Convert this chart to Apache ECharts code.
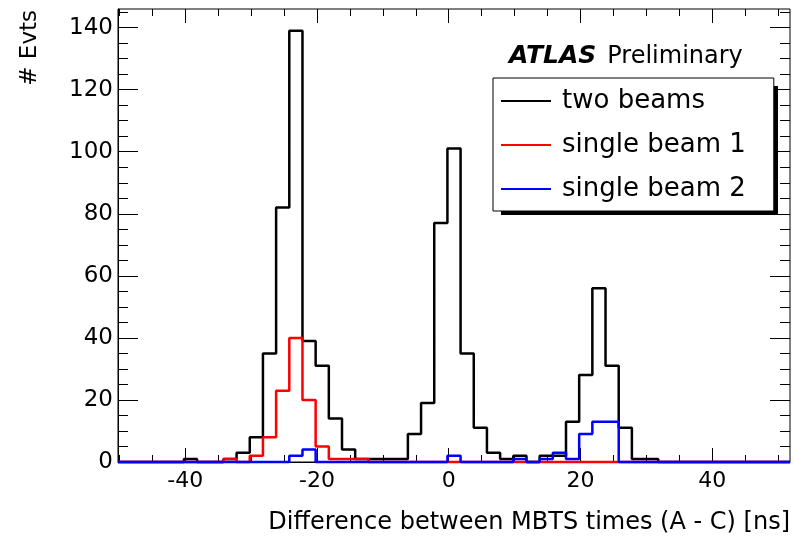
<!DOCTYPE html>
<html>
<head>
<meta charset="utf-8">
<script src="https://cdn.jsdelivr.net/npm/echarts@6/dist/echarts.min.js"></script>
<style>html,body{margin:0;padding:0;background:#fff;}#chart{width:794px;height:540px;}</style>
</head>
<body>
<div id="chart"></div>
<script>
// Histogram binning (ns): 51 bins of width 2 starting at binLow
const binLow = -50.2;
const binWidth = 2;
const xMin = -50.2;
const xMax = 51.8;
const yMin = 0;
const yMax = 146;

const seriesNames = ['two beams', 'single beam 1', 'single beam 2'];
const twoBeams = [0,0,0,0,0,1,0,0,1,3, 8,35,82,139,39,31,14,4,1,1, 1,1,9,19,77,101,35,11,3,1, 2,0,2,2,13,28,56,31,11,1, 1,0,0,0,0,0,0,0,0,0, 0];
const singleBeam1 = [0,0,0,0,0,0,0,0,1,0, 2,8,23,40,20,5,1,1,1,0, 0,0,0,0,0,0,0,0,0,0, 0,0,0,0,0,0,0,0,0,0, 0,0,0,0,0,0,0,0,0,0, 0];
const singleBeam2 = [0,0,0,0,0,0,0,0,0,0, 0,0,0,2,4,0,0,0,0,0, 0,0,0,0,0,2,0,0,0,0, 1,0,1,3,1,9,13,13,0,0, 0,0,0,0,0,0,0,0,0,0, 0];

const xTicks = [-40, -20, 0, 20, 40];
const xMinorTicks = [-50,-45,-40,-35,-30,-25,-20,-15,-10,-5,0,5,10,15,20,25,30,35,40,45,50];
const yTicks = [0, 20, 40, 60, 80, 100, 120, 140];
const yMinorTicks = [0,5,10,15,20,25,30,35,40,45,50,55,60,65,70,75,80,85,90,95,100,105,110,115,120,125,130,135,140,145];

const FONT = 'DejaVu Sans';

function histPoints(counts) {
  const pts = counts.map((c, k) => [binLow + k * binWidth, c]);
  pts.push([binLow + counts.length * binWidth, counts[counts.length - 1]]);
  return pts;
}

function xAxisDef(position, ticks, len, withLabels) {
  return {
    type: 'value', min: xMin, max: xMax, position: position,
    axisLine: { show: withLabels, onZero: false, lineStyle: { color: '#000', width: 1 } },
    axisTick: { show: true, inside: true, length: len, customValues: ticks, lineStyle: { color: '#000', width: 1 } },
    axisLabel: withLabels ? { show: true, customValues: xTicks, fontFamily: FONT, fontSize: 22, color: '#000', margin: 8 } : { show: false },
    splitLine: { show: false }
  };
}
function yAxisDef(position, ticks, len, withLabels) {
  return {
    type: 'value', min: yMin, max: yMax, position: position,
    axisLine: { show: withLabels, onZero: false, lineStyle: { color: '#000', width: 1 } },
    axisTick: { show: true, inside: true, length: len, customValues: ticks, lineStyle: { color: '#000', width: 1 } },
    axisLabel: withLabels ? { show: true, customValues: yTicks, fontFamily: FONT, fontSize: 23, color: '#000', margin: 5 } : { show: false },
    splitLine: { show: false }
  };
}

const colors = ['#000000', '#ff0000', '#0000ff'];
const dataSets = [twoBeams, singleBeam1, singleBeam2];

const chart = echarts.init(document.getElementById('chart'), null, { renderer: 'canvas' });
chart.setOption({
  animation: false,
  backgroundColor: '#ffffff',
  title: {
    text: '{a|ATLAS}{b|Preliminary}',
    left: 509, top: 44, padding: 0,
    textStyle: {
      fontWeight: 'normal',
      rich: {
        a: { fontFamily: FONT, fontWeight: 'bold', fontStyle: 'italic', fontSize: 25, color: '#000' },
        b: { fontFamily: FONT, fontWeight: 'normal', fontSize: 24, color: '#000', padding: [0, 0, 0, 11] }
      }
    }
  },
  legend: {
    orient: 'vertical', left: 493, top: 78,
    padding: [8, 28, 7, 8],
    itemWidth: 50, itemHeight: 2, itemGap: 14, icon: 'rect',
    backgroundColor: '#fff', borderColor: '#000', borderWidth: 1,
    textStyle: { fontFamily: FONT, fontSize: 26, color: '#000', lineHeight: 30, padding: [0, 0, 0, 6] },
    z: 10,
    data: seriesNames
  },
  grid: { left: 118, right: 4, top: 9, bottom: 78, show: true, borderColor: '#000', borderWidth: 1, backgroundColor: 'transparent' },
  xAxis: [
    xAxisDef('bottom', xTicks, 14, true),
    xAxisDef('bottom', xMinorTicks, 7, false),
    xAxisDef('top', xTicks, 14, false),
    xAxisDef('top', xMinorTicks, 7, false)
  ],
  yAxis: [
    yAxisDef('left', yTicks, 20, true),
    yAxisDef('left', yMinorTicks, 10, false),
    yAxisDef('right', yTicks, 20, false),
    yAxisDef('right', yMinorTicks, 10, false)
  ],
  series: dataSets.map((d, i) => ({
    name: seriesNames[i], type: 'line', step: 'end',
    xAxisIndex: 0, yAxisIndex: 0,
    data: histPoints(d), showSymbol: false, symbol: 'none', clip: false,
    color: colors[i],
    lineStyle: { color: colors[i], width: 2.5 },
    z: 2 + i
  })),
  graphic: [
    { type: 'rect', z: 5, shape: { x: 773, y: 86, width: 5, height: 129 }, style: { fill: '#000' } },
    { type: 'rect', z: 5, shape: { x: 501, y: 210, width: 277, height: 5 }, style: { fill: '#000' } },
    { type: 'text', x: 790, y: 523, style: { text: 'Difference between MBTS times (A - C) [ns]', fontFamily: FONT, fontSize: 24, fill: '#000', align: 'right', verticalAlign: 'middle' } },
    { type: 'text', x: 30, y: 10, rotation: Math.PI / 2, style: { text: '# Evts', fontFamily: FONT, fontSize: 23, fill: '#000', align: 'right', verticalAlign: 'middle' } }
  ]
});
</script>
</body>
</html>
